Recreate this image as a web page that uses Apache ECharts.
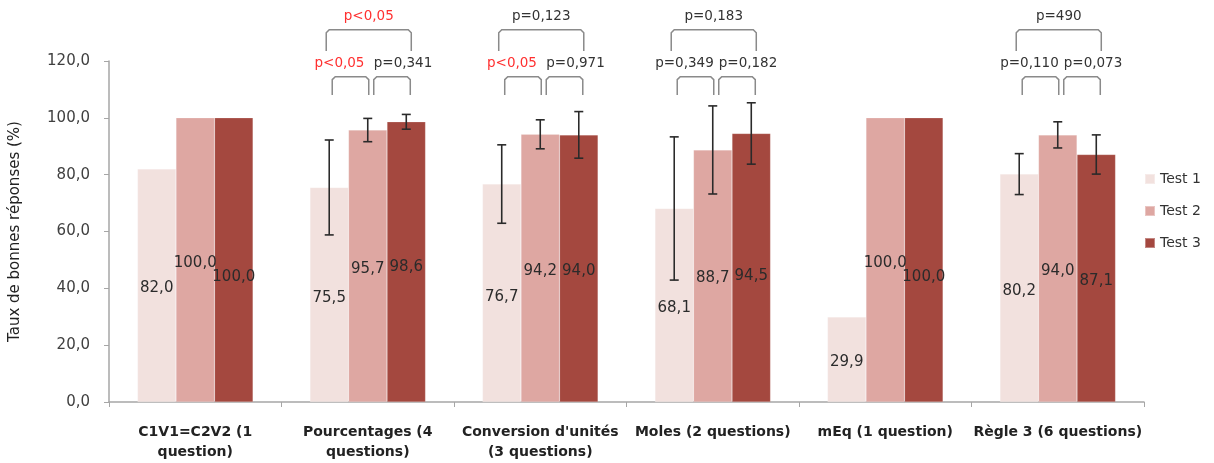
<!DOCTYPE html>
<html>
<head>
<meta charset="utf-8">
<script src="https://cdn.jsdelivr.net/npm/echarts@6/dist/echarts.min.js"></script>
<style>html,body{margin:0;padding:0;background:#fff;}#c{width:1214px;height:463px;}</style>
</head>
<body>
<div id="c"></div>
<script>
// ---- data ----
const categories = ['C1V1=C2V2 (1\nquestion)', 'Pourcentages (4\nquestions)', "Conversion d'unités\n(3 questions)", 'Moles (2 questions)', 'mEq (1 question)', 'Règle 3 (6 questions)'];
const seriesNames = ['Test 1', 'Test 2', 'Test 3'];
const test1 = [82.0, 75.5, 76.7, 68.1, 29.9, 80.2];
const test2 = [100.0, 95.7, 94.2, 88.7, 100.0, 94.0];
const test3 = [100.0, 98.6, 94.0, 94.5, 100.0, 87.1];
// error bar half-widths (null = none)
const err1 = [null, 16.7, 13.8, 25.2, null, 7.2];
const err2 = [null, 4.1, 5.1, 15.5, null, 4.6];
const err3 = [null, 2.6, 8.2, 10.8, null, 6.9];
// p-values
const p12 = ['', 'p<0,05', 'p<0,05', 'p=0,349', '', 'p=0,110'];
const p23 = ['', 'p=0,341', 'p=0,971', 'p=0,182', '', 'p=0,073'];
const p13 = ['', 'p<0,05', 'p=0,123', 'p=0,183', '', 'p=490'];
const yTicks = [0, 20, 40, 60, 80, 100, 120];

// ---- style / layout ----
const colors = ['#f2e1de', '#dea7a2', '#a4483f'];
// heights (in axis units) at which the value labels sit inside bars
const labelAt1 = [40.0, 36.4, 37.0, 33.0, 14.0, 39.1];
const labelAt2 = [48.9, 46.8, 46.0, 43.6, 48.9, 46.0];
const labelAt3 = [44.0, 47.5, 46.0, 44.2, 44.0, 42.5];
const CAT_GAP = 0.33;
const FONT = 'DejaVu Sans';

const values = [test1, test2, test3];
const errs = [err1, err2, err3];
const labelAts = [labelAt1, labelAt2, labelAt3];

function barCenter(api, cat, k) {
  const c = api.coord([cat, 0])[0];
  const band = api.size([1, 0])[0];
  const bw = band * (1 - CAT_GAP) / 3;
  return c + (k - 1) * bw;
}
const fmt = v => v.toFixed(1).replace('.', ',');

// error bar items
const errItems = [];
for (let k = 0; k < 3; k++) {
  for (let i = 0; i < categories.length; i++) {
    if (errs[k][i] != null) errItems.push([i, values[k][i] - errs[k][i], values[k][i] + errs[k][i], k]);
  }
}
// value label items
const labelItems = [];
for (let k = 0; k < 3; k++) {
  for (let i = 0; i < categories.length; i++) {
    labelItems.push([i, labelAts[k][i], k, values[k][i]]);
  }
}
// brackets
const brackets = [];
for (let i = 0; i < categories.length; i++) {
  if (p12[i]) brackets.push({cat: i, from: 0, to: 1, level: 0, text: p12[i], side: -1});
  if (p23[i]) brackets.push({cat: i, from: 1, to: 2, level: 0, text: p23[i], side: 1});
  if (p13[i]) brackets.push({cat: i, from: 0, to: 2, level: 1, text: p13[i], side: 0});
}
const bracketItems = brackets.map(b => [b.cat, b.level === 0 ? 114.5 : 131]);

const chart = echarts.init(document.getElementById('c'));
const barSeries = seriesNames.map((n, k) => ({
  name: n,
  type: 'bar',
  data: values[k],
  barGap: '0%',
  barCategoryGap: (CAT_GAP * 100) + '%',
  itemStyle: {color: colors[k], borderColor: 'rgba(255,255,255,0.35)', borderWidth: 0.5},
  z: 2
}));

const option = {
  animation: false,
  backgroundColor: '#ffffff',
  textStyle: {fontFamily: FONT},
  grid: {left: 105, right: 70, top: 61, bottom: 61, containLabel: false},
  legend: {
    orient: 'vertical', left: 1139, top: 167, itemWidth: 10, itemHeight: 10, itemGap: 18,
    icon: 'rect',
    textStyle: {fontSize: 14, color: '#333', fontFamily: FONT},
    data: seriesNames
  },
  xAxis: {
    type: 'category', data: categories,
    axisLine: {lineStyle: {color: '#a6a6a6', width: 1.5}},
    axisTick: {show: true, alignWithLabel: false, length: 5, lineStyle: {color: '#a6a6a6'}},
    axisLabel: {interval: 0, margin: 20, fontSize: 14, fontWeight: 'bold', color: '#222', lineHeight: 20, fontFamily: FONT}
  },
  yAxis: {
    type: 'value', min: 0, max: 120, interval: 20,
    name: 'Taux de bonnes réponses (%)', nameLocation: 'middle', nameGap: 86,
    nameTextStyle: {fontSize: 15, color: '#222', fontFamily: FONT},
    splitLine: {show: false},
    axisLine: {show: true, lineStyle: {color: '#a6a6a6', width: 1.5}},
    axisTick: {show: true, length: 5, lineStyle: {color: '#a6a6a6'}},
    axisLabel: {fontSize: 15, color: '#404040', margin: 19, fontFamily: FONT, formatter: v => fmt(v)}
  },
  series: barSeries.concat([
    {
      type: 'custom', name: 'labels', data: labelItems, z: 5, silent: true, clip: false,
      encode: {x: 0, y: 1},
      renderItem: (params, api) => {
        const cat = api.value(0), k = api.value(2);
        const x = barCenter(api, cat, k);
        const y = api.coord([cat, api.value(1)])[1];
        return {type: 'text', x: x, y: y, style: {text: fmt(api.value(3)), fill: '#2b2b2b', fontSize: 15, fontFamily: FONT, align: 'center', verticalAlign: 'middle'}};
      }
    },
    {
      type: 'custom', name: 'errors', data: errItems, z: 6, silent: true, clip: false,
      encode: {x: 0, y: [1, 2]},
      renderItem: (params, api) => {
        const cat = api.value(0), k = api.value(3);
        const x = barCenter(api, cat, k);
        const yl = api.coord([cat, api.value(1)])[1];
        const yh = api.coord([cat, api.value(2)])[1];
        const st = {stroke: '#2a2a2a', lineWidth: 1.6};
        return {type: 'group', children: [
          {type: 'line', shape: {x1: x, y1: yh, x2: x, y2: yl}, style: st},
          {type: 'line', shape: {x1: x - 4.5, y1: yh, x2: x + 4.5, y2: yh}, style: st},
          {type: 'line', shape: {x1: x - 4.5, y1: yl, x2: x + 4.5, y2: yl}, style: st}
        ]};
      }
    },
    {
      type: 'custom', name: 'brackets', data: bracketItems, z: 6, silent: true, clip: false,
      encode: {x: 0, y: 1},
      renderItem: (params, api) => {
        const b = brackets[params.dataIndex];
        const c1 = barCenter(api, b.cat, b.from);
        const c2 = barCenter(api, b.cat, b.to);
        let xa, xb, top, foot, ty;
        if (b.level === 0) {
          if (b.side < 0) { xa = c1 + 3; xb = c2 + 1; } else { xa = c1 + 6; xb = c2 + 4; }
          top = api.coord([b.cat, 114.5])[1];
          foot = api.coord([b.cat, 108])[1];
          ty = api.coord([b.cat, 119.2])[1];
        } else {
          xa = c1 - 3; xb = c2 + 5;
          top = api.coord([b.cat, 131])[1];
          foot = api.coord([b.cat, 123.5])[1];
          ty = api.coord([b.cat, 135.5])[1];
        }
        const tx = (xa + xb) / 2 + (b.side < 0 ? -11 : b.side > 0 ? 11 : 0);
        const red = b.text.indexOf('<') >= 0;
        const r = 3;
        return {type: 'group', children: [
          {type: 'polyline', shape: {points: [[xa, foot], [xa, top + r], [xa + r, top], [xb - r, top], [xb, top + r], [xb, foot]]},
           style: {stroke: '#8a8a8a', lineWidth: 1.5, fill: null}},
          {type: 'text', x: tx, y: ty, style: {text: b.text, fill: red ? '#ff3030' : '#333', fontSize: 13.5, fontFamily: FONT, align: 'center', verticalAlign: 'middle'}}
        ]};
      }
    }
  ])
};
chart.setOption(option);
</script>
</body>
</html>
